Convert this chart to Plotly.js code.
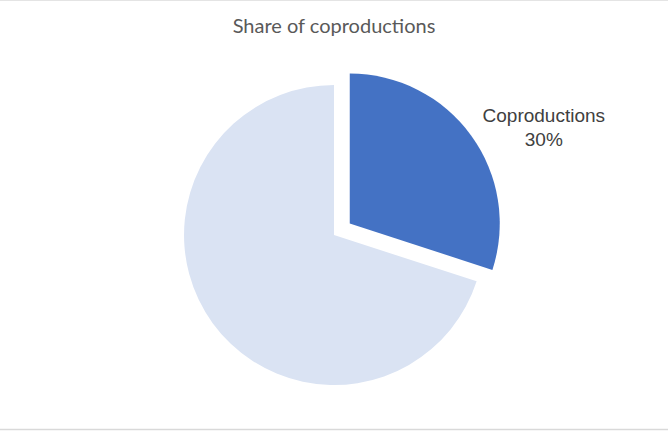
<!DOCTYPE html>
<html>
<head>
<meta charset="utf-8">
<script src="https://cdn.plot.ly/plotly-3.0.1.min.js"></script>
<style>html,body{margin:0;padding:0;background:#fff;}#chart{width:668px;height:431px;}</style>
</head>
<body>
<div id="chart"></div>
<script>
const categories = ["Coproductions", "Other productions"];
const shares = [30, 70];
const showLabel = [true, false];
const chartTitle = "Share of coproductions";

const labelText = categories.map((c, i) => showLabel[i] ? c + "<br>" + shares[i] + "%" : "");

const trace = {
  type: "pie",
  labels: categories,
  values: shares,
  sort: false,
  direction: "clockwise",
  rotation: 0,
  pull: [0.13, 0],
  marker: { colors: ["#4472C4", "#DAE3F3"], line: { width: 0 } },
  text: labelText,
  textinfo: "text",
  textposition: ["outside", "none"],
  outsidetextfont: { family: "Liberation Sans, Arial, sans-serif", size: 19, color: "#404040" },
  hoverinfo: "label+percent",
  domain: { x: [0.2463, 0.7537], y: [0.0615, 0.848] },
  automargin: false
};

const layout = {
  width: 668,
  height: 431,
  margin: { l: 0, r: 0, t: 0, b: 0 },
  paper_bgcolor: "#fff",
  showlegend: false,
  title: {
    text: chartTitle,
    font: { family: "Lato, Open Sans, sans-serif", size: 20, color: "#595959" },
    x: 0.5, xanchor: "center", y: 0.94, yanchor: "middle"
  },
  shapes: [
    { type: "line", xref: "paper", yref: "paper", x0: 0, x1: 1, y0: 0.9995, y1: 0.9995, line: { color: "#D9D9D9", width: 1 } },
    { type: "line", xref: "paper", yref: "paper", x0: 0, x1: 1, y0: 0.0035, y1: 0.0035, line: { color: "#D9D9D9", width: 1.5 } }
  ]
};

Plotly.newPlot("chart", [trace], layout, { displayModeBar: false, staticPlot: true });
</script>
</body>
</html>
